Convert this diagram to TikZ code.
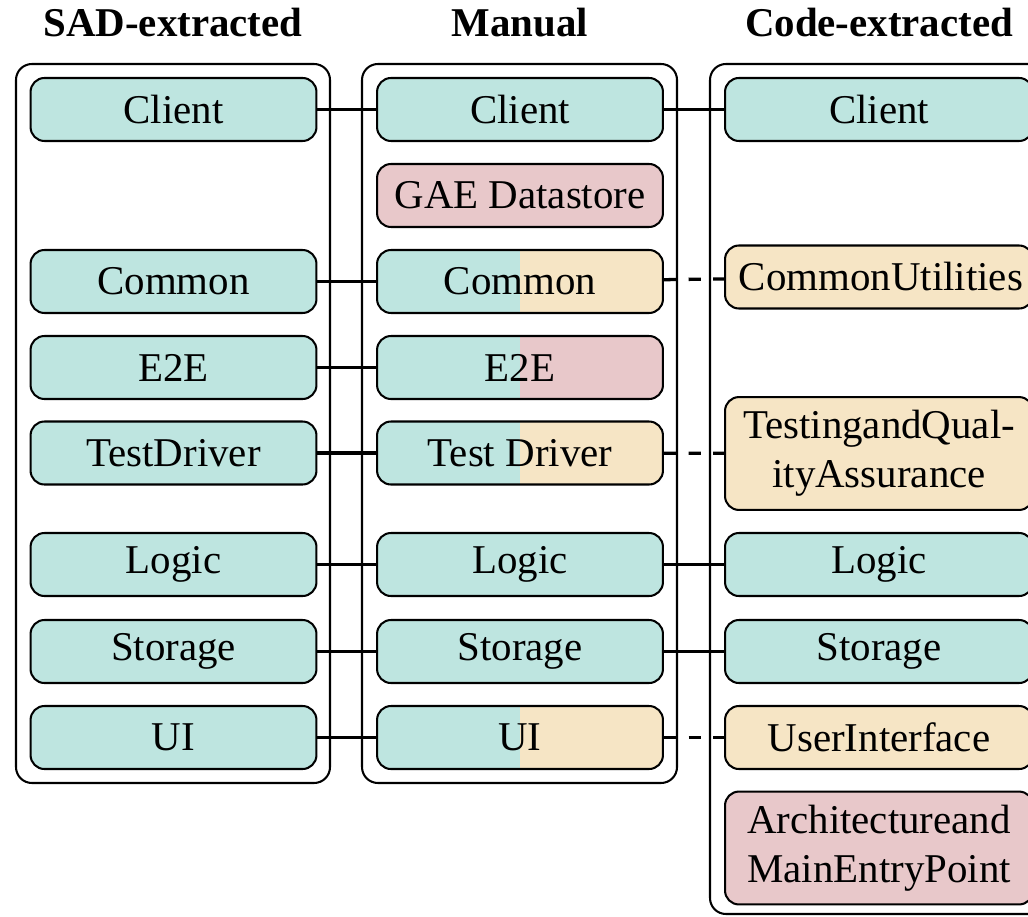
\documentclass[tikz,border=0pt]{standalone}
\usepackage{fontspec}
\setmainfont{Liberation Serif}

\definecolor{sadgreen}{HTML}{BEE5E0}
\definecolor{missred}{HTML}{E8C8CA}
\definecolor{codetan}{HTML}{F6E5C5}

\tikzset{
  title/.style={font=\bfseries, anchor=base},
  group/.style={draw, line width=0.5pt, rounded corners=3.9pt},
  comp/.style={draw, line width=0.5pt, rounded corners=3.4pt, minimum width=69.9pt, minimum height=15.4pt, inner sep=2pt},
  code/.style={comp, minimum width=75.3pt, text width=68.5pt, align=center},
  twoline/.style={minimum height=27.6pt},
  halfsplit/.style={path picture={\fill[#1, sharp corners] (path picture bounding box.north) rectangle (path picture bounding box.south east);}},
  link/.style={line width=0.8pt},
  dlink/.style={link, dashed}
}

\begin{document}
\begin{tikzpicture}[x=0.2445pt,y=-0.2445pt]
        \useasboundingbox (0,0) rectangle (1028,916);
        \clip (0,0) rectangle (1028,916);

        %Column titles
        \node[title] (tSAD) at (173,36.5) {SAD-extracted};
        \node[title] (tMan) at (520,36.5) {Manual};
        \node[title] (tCode) at (879,36.5) {Code-extracted};

        %Group boxes
        \draw[group] (16,64) rectangle (330,783);
        \draw[group] (362,64) rectangle (677,783);
        \draw[group] (710,64) rectangle (1060,914);

        %SAD-extracted modules
        \node[comp, fill=sadgreen] (sClient) at (173.5,109.5) {Client};
        \node[comp, fill=sadgreen] (sCommon) at (173.5,281.5) {Common};
        \node[comp, fill=sadgreen] (sE2E) at (173.5,367.5) {E2E};
        \node[comp, fill=sadgreen] (sTest) at (173.5,453) {TestDriver};
        \node[comp, fill=sadgreen] (sLogic) at (173.5,564.5) {Logic};
        \node[comp, fill=sadgreen] (sStorage) at (173.5,651.5) {Storage};
        \node[comp, fill=sadgreen] (sUI) at (173.5,737.5) {UI};

        %Manual modules
        \node[comp, fill=sadgreen] (mClient) at (520,109.5) {Client};
        \node[comp, fill=missred] (mGAE) at (520,195.5) {GAE Datastore};
        \node[comp, fill=sadgreen, halfsplit=codetan] (mCommon) at (520,281.5) {Common};
        \node[comp, fill=sadgreen, halfsplit=missred] (mE2E) at (520,367.5) {E2E};
        \node[comp, fill=sadgreen, halfsplit=codetan] (mTest) at (520,453) {Test Driver};
        \node[comp, fill=sadgreen] (mLogic) at (520,564.5) {Logic};
        \node[comp, fill=sadgreen] (mStorage) at (520,651.5) {Storage};
        \node[comp, fill=sadgreen, halfsplit=codetan] (mUI) at (520,737.5) {UI};

        %Code-extracted modules
        \node[code, fill=sadgreen] (cClient) at (879,109.5) {Client};
        \node[code, fill=codetan] (cCommon) at (879,277) {CommonUtilities};
        \node[code, twoline, fill=codetan] (cTest) at (879,453.5) {TestingandQual-\\ityAssurance};
        \node[code, fill=sadgreen] (cLogic) at (879,564.5) {Logic};
        \node[code, fill=sadgreen] (cStorage) at (879,651.5) {Storage};
        \node[code, fill=codetan] (cUI) at (879,737.5) {UserInterface};
        \node[code, twoline, fill=missred] (cArch) at (879,848) {Architectureand\\MainEntryPoint};

        %Links SAD - Manual
        \draw[link] (sClient) -- (mClient);
        \draw[link] (sCommon) -- (mCommon);
        \draw[link] (sE2E) -- (mE2E);
        \draw[link] (sTest) -- (mTest);
        \draw[link] (sLogic) -- (mLogic);
        \draw[link] (sStorage) -- (mStorage);
        \draw[link] (sUI) -- (mUI);

        %Links Manual - Code
        \draw[link] (mClient) -- (cClient);
        \draw[dlink] (mCommon) -- (cCommon);
        \draw[dlink] (mTest) -- (cTest);
        \draw[link] (mLogic) -- (cLogic);
        \draw[link] (mStorage) -- (cStorage);
        \draw[dlink] (mUI) -- (cUI);

\end{tikzpicture}
\end{document}
